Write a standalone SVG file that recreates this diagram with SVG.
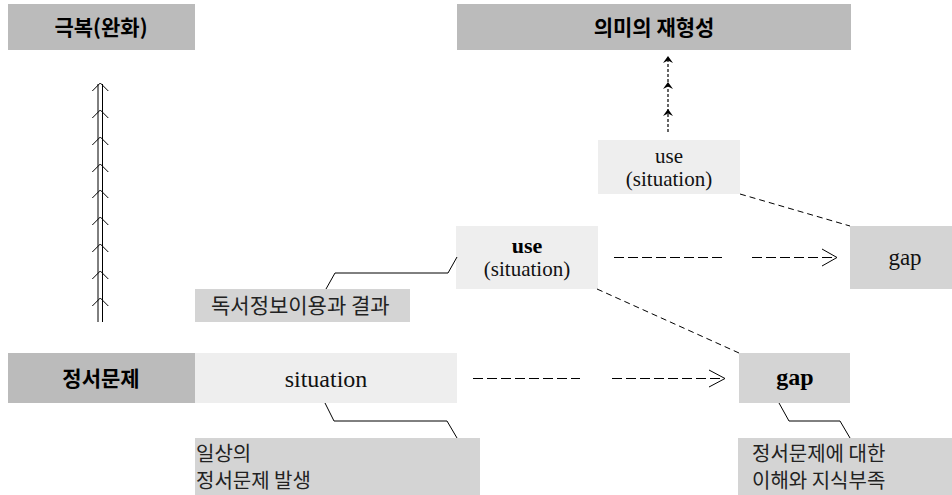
<svg xmlns="http://www.w3.org/2000/svg" width="952" height="495" viewBox="0 0 952 495">
<style>
.dark{fill:#bbbbbb}
.mid{fill:#d4d4d4}
.light{fill:#eeeeee}
.hd{font-family:"Noto Sans CJK KR","Liberation Sans",sans-serif;font-size:21px;font-weight:bold;fill:#000;text-anchor:middle}
.kr{font-family:"Noto Sans CJK KR","Liberation Sans",sans-serif;font-size:21px;fill:#222}
.en{font-family:"Liberation Serif","DejaVu Serif",serif;font-size:21px;fill:#111;text-anchor:middle}
.b{font-weight:bold;fill:#000}
.ln{fill:none;stroke:#000;stroke-width:1}
.dash{fill:none;stroke:#000;stroke-width:1;stroke-dasharray:10 4}
.sdash{fill:none;stroke:#000;stroke-width:1;stroke-dasharray:6 4}
.dot{fill:none;stroke:#000;stroke-width:1.2;stroke-dasharray:3 2}
</style>
<defs>
<path id="chev" d="M-8,8 L0,0 L8,8" fill="none" stroke="#000" stroke-width="1"/>
<path id="tri" d="M-5,7 L0,0 L5,7 L0,4.5 Z" fill="#000"/>
</defs>

<g id="node-overcome">
<rect class="dark" x="8" y="4" width="187" height="46"/>
<text class="hd" x="101" y="35">극복(완화)</text>
</g>
<g id="node-meaning">
<rect class="dark" x="457" y="4" width="394" height="46"/>
<text class="hd" x="654" y="35">의미의  재형성</text>
</g>
<g id="node-use-top">
<rect class="light" x="598" y="140" width="142" height="54"/>
<text class="en" x="669" y="163">use</text>
<text class="en" x="669" y="186">(situation)</text>
</g>
<g id="node-use-mid">
<rect class="light" x="456" y="226" width="142" height="63"/>
<text class="en b" x="527" y="253" style="font-size:22px">use</text>
<text class="en" x="527" y="276">(situation)</text>
</g>
<g id="node-gap-top">
<rect class="mid" x="850" y="226" width="102" height="63"/>
<text class="en" x="905" y="265" style="font-size:23px">gap</text>
</g>
<g id="node-reading">
<rect class="mid" x="195" y="289" width="215" height="33"/>
<text class="kr" x="211" y="313">독서정보이용과 결과</text>
</g>
<g id="node-emotion">
<rect class="dark" x="8" y="353" width="187" height="50"/>
<text class="hd" x="101" y="386">정서문제</text>
</g>
<g id="node-situation">
<rect class="light" x="195" y="353" width="262" height="50"/>
<text class="en" x="326" y="387" style="font-size:24px">situation</text>
</g>
<g id="node-gap-bottom">
<rect class="mid" x="739" y="353" width="111" height="50"/>
<text class="en b" x="795" y="385" style="font-size:24px">gap</text>
</g>
<g id="node-daily">
<rect class="mid" x="195" y="438" width="285" height="57"/>
<text class="kr" x="196" y="461" style="font-size:20px">일상의</text>
<text class="kr" x="196" y="488" style="font-size:20px">정서문제 발생</text>
</g>
<g id="node-lack">
<rect class="mid" x="738" y="438" width="214" height="57"/>
<text class="kr" x="752" y="461" style="font-size:20px">정서문제에 대한</text>
<text class="kr" x="752" y="488" style="font-size:20px">이해와 지식부족</text>
</g>

<g id="connectors">
<line class="ln" x1="98" y1="84" x2="98" y2="322"/>
<line class="ln" x1="102.5" y1="84" x2="102.5" y2="322"/>
<use href="#chev" x="100.3" y="83"/>
<use href="#chev" x="100.3" y="110"/>
<use href="#chev" x="100.3" y="137"/>
<use href="#chev" x="100.3" y="164"/>
<use href="#chev" x="100.3" y="190"/>
<use href="#chev" x="100.3" y="217"/>
<use href="#chev" x="100.3" y="244"/>
<use href="#chev" x="100.3" y="271"/>
<use href="#chev" x="100.3" y="298"/>
<line class="dot" x1="668" y1="59" x2="668" y2="133"/>
<use href="#tri" x="668" y="56"/>
<use href="#tri" x="668" y="82"/>
<use href="#tri" x="668" y="109"/>
<line class="sdash" x1="740" y1="194" x2="850" y2="226"/>
<line class="sdash" x1="597" y1="289" x2="739" y2="353"/>
<line class="dash" x1="614" y1="257.5" x2="723" y2="257.5"/>
<line class="dash" x1="752" y1="257.5" x2="836" y2="257.5"/>
<path class="ln" d="M822,249 L837,257.5 L822,266"/>
<line class="dash" x1="473" y1="378.5" x2="580" y2="378.5"/>
<line class="dash" x1="612" y1="378.5" x2="724" y2="378.5"/>
<path class="ln" d="M709,370 L725,378.5 L709,387"/>
<polyline class="ln" points="457,257 448,273 335,273 326,289"/>
<polyline class="ln" points="325,403 334,421 447,421 457,438"/>
<polyline class="ln" points="779,403 789,421 840,421 850,438"/>
</g>
</svg>
